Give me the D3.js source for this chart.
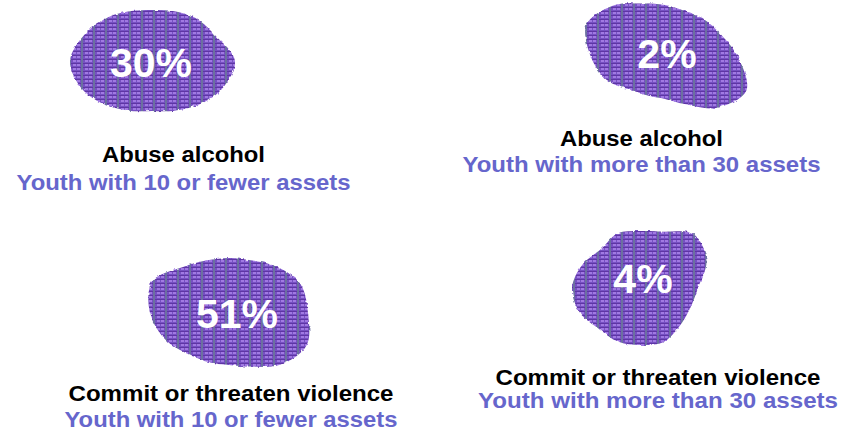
<!DOCTYPE html>
<html>
<head>
<meta charset="utf-8">
<script src="https://cdn.jsdelivr.net/npm/d3@7"></script>
<style>
  body { margin: 0; background: #fff; }
  svg { display: block; }
  text { font-family: "Liberation Sans", Arial, sans-serif; font-weight: bold; }
</style>
</head>
<body>
<script>
// Values shown in the four blobs
const values = [30, 2, 51, 4];
const outcomes = ["Abuse alcohol", "Abuse alcohol", "Commit or threaten violence", "Commit or threaten violence"];
const groups = ["Youth with 10 or fewer assets", "Youth with more than 30 assets",
                "Youth with 10 or fewer assets", "Youth with more than 30 assets"];
// Outline of each blob: radius every 22.5 degrees, clockwise from the top
const blobRadii = [
  [51, 54, 61, 68, 83, 75, 63, 54, 50, 54, 63, 75, 82, 72, 62, 54],
  [52, 50, 54, 60, 73, 88, 72, 51, 42, 42, 47, 62, 74, 85, 73, 58],
  [55, 57, 66, 77, 79, 84, 73, 58, 52, 53, 58, 69, 79, 83, 65, 57],
  [57, 61, 76, 72, 58, 54, 55, 59, 57, 58, 58, 65, 68, 62, 55, 59]
];

// Layout of each panel (blob centre, number and label anchors)
const layout = [
  { cx: 152, cy: 61, nx: 151, ny: 77, lx: 183.5, ty: 162, sy: 190, tw: 163, sw: 334 },
  { cx: 665, cy: 57, nx: 667, ny: 68, lx: 641.5, ty: 146, sy: 172, tw: 163, sw: 358 },
  { cx: 229, cy: 313, nx: 237, ny: 328, lx: 231, ty: 401, sy: 427, tw: 325, sw: 333 },
  { cx: 640, cy: 288, nx: 643, ny: 293, lx: 658, ty: 385, sy: 408, tw: 325, sw: 360 }
];

const width = 854;
const height = 431;

const svg = d3.select("body").append("svg")
  .attr("width", width)
  .attr("height", height);

const defs = svg.append("defs");

// plaid texture
const pat = defs.append("pattern")
  .attr("id", "plaid")
  .attr("patternUnits", "userSpaceOnUse")
  .attr("width", 12)
  .attr("height", 8);
pat.append("rect").attr("width", 12).attr("height", 8).attr("fill", "#7650c2");
[[1, 0], [5, 0], [1, 4], [5, 4]].forEach(p => {
  pat.append("rect").attr("x", p[0]).attr("y", p[1]).attr("width", 3).attr("height", 2).attr("fill", "#a079e2");
});
pat.append("rect").attr("x", 0).attr("y", 3).attr("width", 12).attr("height", 1).attr("fill", "#5e35a4");
pat.append("rect").attr("x", 0).attr("y", 7).attr("width", 12).attr("height", 1).attr("fill", "#5e35a4");
pat.append("rect").attr("x", 9).attr("y", 0).attr("width", 2).attr("height", 8).attr("fill", "#6b70a0");

// ragged edges
const filt = defs.append("filter").attr("id", "rough")
  .attr("x", "-10%").attr("y", "-10%").attr("width", "120%").attr("height", "120%");
filt.append("feTurbulence").attr("type", "fractalNoise").attr("baseFrequency", 0.25)
  .attr("numOctaves", 2).attr("seed", 3).attr("result", "noise");
filt.append("feDisplacementMap").attr("in", "SourceGraphic").attr("in2", "noise")
  .attr("scale", 3).attr("xChannelSelector", "R").attr("yChannelSelector", "G");

const angle = d3.scaleLinear().domain([0, 16]).range([0, 2 * Math.PI]);
const blob = d3.lineRadial()
  .angle((d, i) => angle(i))
  .radius(d => d)
  .curve(d3.curveCatmullRomClosed.alpha(0.5));

// one mask per blob, so the roughness only touches the edge and not the plaid
values.forEach((v, i) => {
  defs.append("mask")
    .attr("id", "blob" + i)
    .attr("maskUnits", "userSpaceOnUse")
    .attr("x", 0).attr("y", 0).attr("width", width).attr("height", height)
    .append("path")
    .attr("transform", `translate(${layout[i].cx},${layout[i].cy})`)
    .attr("d", blob(blobRadii[i]))
    .attr("fill", "#fff")
    .attr("filter", "url(#rough)");
});

const panels = svg.selectAll("g.panel")
  .data(values)
  .join("g")
  .attr("class", "panel");

panels.append("rect")
  .attr("x", (d, i) => layout[i].cx - d3.max(blobRadii[i]) - 5)
  .attr("y", (d, i) => layout[i].cy - d3.max(blobRadii[i]) - 5)
  .attr("width", (d, i) => 2 * d3.max(blobRadii[i]) + 10)
  .attr("height", (d, i) => 2 * d3.max(blobRadii[i]) + 10)
  .attr("fill", "url(#plaid)")
  .attr("mask", (d, i) => `url(#blob${i})`);

panels.append("text")
  .attr("x", (d, i) => layout[i].nx)
  .attr("y", (d, i) => layout[i].ny)
  .attr("text-anchor", "middle")
  .attr("font-size", 41)
  .attr("fill", "#fff")
  .text(d => d + "%");

panels.append("text")
  .attr("x", (d, i) => layout[i].lx)
  .attr("y", (d, i) => layout[i].ty)
  .attr("text-anchor", "middle")
  .attr("font-size", 22)
  .attr("fill", "#000")
  .attr("textLength", (d, i) => layout[i].tw)
  .attr("lengthAdjust", "spacingAndGlyphs")
  .text((d, i) => outcomes[i]);

panels.append("text")
  .attr("x", (d, i) => layout[i].lx)
  .attr("y", (d, i) => layout[i].sy)
  .attr("text-anchor", "middle")
  .attr("font-size", 22)
  .attr("fill", "#6666cc")
  .attr("textLength", (d, i) => layout[i].sw)
  .attr("lengthAdjust", "spacingAndGlyphs")
  .text((d, i) => groups[i]);
</script>
</body>
</html>
